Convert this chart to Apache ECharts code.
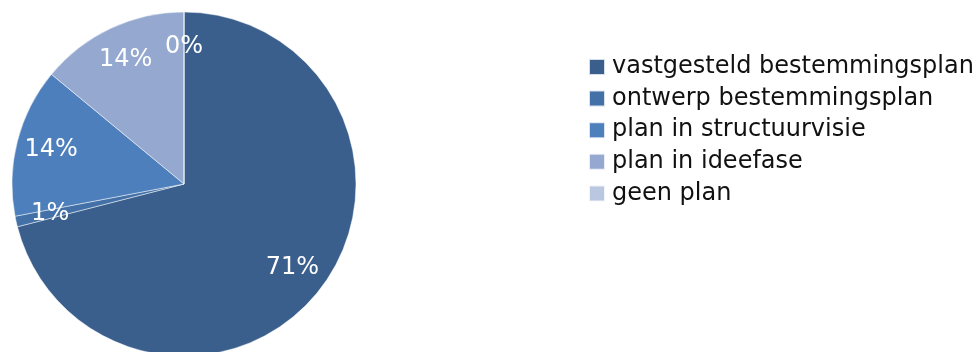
<!DOCTYPE html>
<html>
<head>
<meta charset="utf-8">
<script src="https://cdn.jsdelivr.net/npm/echarts@6/dist/echarts.min.js"></script>
<style>
  html, body { margin: 0; padding: 0; background: #ffffff; }
  #chart { width: 975px; height: 352px; }
</style>
</head>
<body>
<div id="chart"></div>
<script>
// Status of plans, share per category
const categories = [
  'vastgesteld bestemmingsplan',
  'ontwerp bestemmingsplan',
  'plan in structuurvisie',
  'plan in ideefase',
  'geen plan'
];
const shares = [71, 1, 14, 14, 0];
const colors = ['#3b5f8d', '#4371a7', '#4d7fbc', '#95a9d0', '#bac7e0'];

const FONT = 'DejaVu Sans';
const CENTER = [184, 184];
const R = 172;

const pieData = categories.map((name, i) => ({
  name,
  value: shares[i],
  itemStyle: { color: colors[i] }
}));

const chart = echarts.init(document.getElementById('chart'), null, { renderer: 'canvas' });
chart.setOption({
  animation: false,
  color: colors,
  legend: {
    orient: 'vertical',
    left: 588,
    top: 55,
    padding: 0,
    itemWidth: 16,
    itemHeight: 16,
    itemGap: 7.6,
    icon: 'rect',
    selectedMode: false,
    data: categories,
    textStyle: {
      fontFamily: FONT,
      fontSize: 24,
      lineHeight: 24,
      color: '#111111',
      padding: [0, 0, 0, 2]
    }
  },
  series: [
    {
      // the pie itself
      type: 'pie',
      center: CENTER,
      radius: [0, R],
      startAngle: 90,
      clockwise: true,
      silent: true,
      label: { show: false },
      labelLine: { show: false },
      itemStyle: { borderColor: 'rgba(255,255,255,0.8)', borderWidth: 0.6 },
      data: pieData
    },
    {
      // transparent ring carrying the percentage labels
      type: 'pie',
      center: CENTER,
      radius: [R * 0.56, R],
      startAngle: 90,
      clockwise: true,
      silent: true,
      minShowLabelAngle: 0,
      itemStyle: { color: 'rgba(0,0,0,0)', borderWidth: 0 },
      label: {
        show: true,
        position: 'inside',
        fontFamily: FONT,
        fontSize: 24,
        color: '#ffffff',
        formatter: p => Math.round(p.value) + '%'
      },
      labelLine: { show: false },
      data: categories.map((name, i) => ({ name, value: shares[i] }))
    }
  ]
});
</script>
</body>
</html>
